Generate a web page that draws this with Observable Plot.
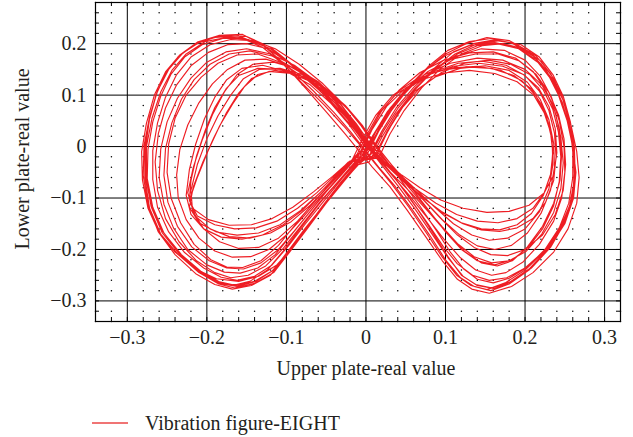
<!DOCTYPE html>
<html>
<head>
<meta charset="utf-8">
<script src="https://cdn.jsdelivr.net/npm/d3@7"></script>
<script src="https://cdn.jsdelivr.net/npm/@observablehq/plot@0.6"></script>
<style>
  html, body { margin: 0; padding: 0; background: #fff; }
  #wrap { position: relative; width: 633px; height: 437px; font-family: "Liberation Serif", "DejaVu Serif", serif; color: #231f20; }
  #legend { position: absolute; left: 92px; top: 411px; height: 24px; display: flex; align-items: center; }
  #legend .sw { width: 36px; height: 2px; background: #f07474; }
  #legend span { margin-left: 17px; font-size: 20px; line-height: 24px; }
</style>
</head>
<body>
<div id="wrap"><div id="chart"></div>
<div id="legend"><div class="sw"></div><span id="legtext"></span></div>
</div>
<script>
// Axis tick values and texts
const xTicks = [-0.3, -0.2, -0.1, 0, 0.1, 0.2, 0.3];
const yTicks = [-0.3, -0.2, -0.1, 0, 0.1, 0.2];
const seriesName = "Vibration figure-EIGHT";
const xLabel = "Upper plate-real value";
const yLabel = "Lower plate-real value";

// Trajectory, loop by loop: [upper plate, lower plate]
const loopA = [[0.0,-0.02],[0.016,0.03],[0.034,0.075],[0.055,0.117],[0.078,0.155],[0.103,0.187],[0.13,0.204],[0.157,0.21],[0.185,0.2],[0.211,0.175],[0.229,0.14],[0.242,0.1],[0.253,0.05],[0.26,0.0],[0.264,-0.05],[0.261,-0.1],[0.25,-0.15],[0.229,-0.2],[0.205,-0.24],[0.18,-0.267],[0.157,-0.28],[0.136,-0.272],[0.119,-0.255],[0.1,-0.22],[0.08,-0.172],[0.058,-0.122],[0.036,-0.076],[0.016,-0.04],
  [-0.002,-0.005],[-0.02,0.03],[-0.04,0.066],[-0.066,0.108],[-0.098,0.155],[-0.128,0.195],[-0.16,0.215],[-0.19,0.212],[-0.215,0.199],[-0.236,0.175],[-0.251,0.144],[-0.264,0.1],[-0.273,0.05],[-0.278,0.0],[-0.278,-0.06],[-0.272,-0.12],[-0.258,-0.17],[-0.236,-0.21],[-0.21,-0.245],[-0.185,-0.267],[-0.165,-0.275],[-0.14,-0.266],[-0.116,-0.245],[-0.096,-0.205],[-0.073,-0.158],[-0.05,-0.11],[-0.028,-0.068],[-0.01,-0.035]];
const loopB = [[0.01,-0.02],[0.026,0.028],[0.044,0.074],[0.064,0.116],[0.087,0.154],[0.11,0.184],[0.135,0.2],[0.16,0.207],[0.188,0.2],[0.214,0.176],[0.232,0.142],[0.246,0.1],[0.255,0.05],[0.261,0.0],[0.263,-0.055],[0.259,-0.105],[0.247,-0.155],[0.228,-0.2],[0.205,-0.238],[0.181,-0.263],[0.159,-0.275],[0.138,-0.268],[0.12,-0.25],[0.104,-0.216],[0.085,-0.17],[0.064,-0.12],[0.043,-0.075],[0.024,-0.037],
  [0.006,-0.002],[-0.012,0.034],[-0.034,0.072],[-0.062,0.114],[-0.092,0.157],[-0.12,0.19],[-0.148,0.208],[-0.176,0.212],[-0.202,0.204],[-0.226,0.18],[-0.244,0.148],[-0.258,0.106],[-0.269,0.055],[-0.276,0.0],[-0.276,-0.058],[-0.269,-0.115],[-0.255,-0.166],[-0.234,-0.208],[-0.21,-0.242],[-0.188,-0.262],[-0.168,-0.27],[-0.146,-0.262],[-0.124,-0.24],[-0.104,-0.203],[-0.082,-0.158],[-0.058,-0.11],[-0.034,-0.066],[-0.012,-0.03]];
const loopC = [[-0.008,-0.025],[0.008,0.02],[0.026,0.064],[0.047,0.106],[0.072,0.146],[0.1,0.177],[0.13,0.196],[0.162,0.202],[0.19,0.193],[0.215,0.168],[0.234,0.132],[0.248,0.09],[0.258,0.04],[0.265,-0.01],[0.268,-0.06],[0.265,-0.11],[0.254,-0.16],[0.236,-0.205],[0.21,-0.245],[0.183,-0.272],[0.155,-0.285],[0.133,-0.277],[0.115,-0.258],[0.096,-0.222],[0.075,-0.175],[0.052,-0.124],[0.03,-0.078],[0.008,-0.04],
  [-0.01,-0.006],[-0.027,0.026],[-0.048,0.064],[-0.074,0.11],[-0.1,0.155],[-0.126,0.194],[-0.155,0.218],[-0.185,0.216],[-0.212,0.203],[-0.234,0.178],[-0.252,0.145],[-0.266,0.1],[-0.276,0.045],[-0.282,-0.01],[-0.281,-0.065],[-0.274,-0.12],[-0.26,-0.168],[-0.24,-0.205],[-0.214,-0.238],[-0.188,-0.257],[-0.16,-0.262],[-0.135,-0.252],[-0.112,-0.23],[-0.092,-0.195],[-0.07,-0.15],[-0.047,-0.104],[-0.026,-0.062],[-0.01,-0.03]];
const loopD = [[0.004,-0.018],[0.02,0.03],[0.038,0.075],[0.06,0.115],[0.085,0.15],[0.114,0.176],[0.145,0.19],[0.174,0.187],[0.2,0.168],[0.219,0.137],[0.233,0.097],[0.243,0.05],[0.249,0.0],[0.25,-0.05],[0.246,-0.1],[0.236,-0.145],[0.218,-0.19],[0.197,-0.225],[0.176,-0.245],[0.158,-0.25],[0.138,-0.24],[0.118,-0.215],[0.098,-0.18],[0.077,-0.138],[0.055,-0.096],[0.034,-0.058],[0.016,-0.025],
  [-0.003,0.012],[-0.02,0.05],[-0.042,0.09],[-0.068,0.128],[-0.096,0.163],[-0.124,0.19],[-0.15,0.2],[-0.174,0.198],[-0.198,0.183],[-0.22,0.157],[-0.238,0.12],[-0.252,0.075],[-0.261,0.025],[-0.265,-0.03],[-0.262,-0.085],[-0.252,-0.14],[-0.235,-0.185],[-0.213,-0.222],[-0.19,-0.245],[-0.17,-0.255],[-0.148,-0.25],[-0.126,-0.232],[-0.104,-0.198],[-0.082,-0.155],[-0.058,-0.108],[-0.034,-0.066],[-0.014,-0.03]];
const loopE = [[-0.004,-0.022],[0.01,0.024],[0.027,0.068],[0.048,0.108],[0.074,0.14],[0.106,0.162],[0.14,0.172],[0.172,0.168],[0.2,0.15],[0.221,0.12],[0.235,0.082],[0.243,0.036],[0.246,-0.015],[0.244,-0.065],[0.236,-0.11],[0.222,-0.155],[0.203,-0.195],[0.184,-0.222],[0.165,-0.232],[0.145,-0.226],[0.125,-0.205],[0.104,-0.172],[0.082,-0.133],[0.058,-0.092],[0.034,-0.055],[0.012,-0.02],
  [-0.006,0.015],[-0.024,0.055],[-0.048,0.095],[-0.076,0.132],[-0.106,0.163],[-0.136,0.18],[-0.162,0.178],[-0.186,0.162],[-0.207,0.135],[-0.226,0.1],[-0.24,0.055],[-0.248,0.005],[-0.25,-0.05],[-0.245,-0.1],[-0.233,-0.148],[-0.216,-0.19],[-0.195,-0.22],[-0.175,-0.234],[-0.155,-0.235],[-0.132,-0.222],[-0.11,-0.192],[-0.088,-0.15],[-0.064,-0.105],[-0.04,-0.065],[-0.02,-0.03]];
const loopF = [[0.012,-0.02],[0.026,0.025],[0.042,0.07],[0.062,0.108],[0.088,0.136],[0.118,0.152],[0.15,0.157],[0.18,0.148],[0.203,0.125],[0.219,0.092],[0.23,0.052],[0.236,0.006],[0.237,-0.04],[0.232,-0.085],[0.22,-0.13],[0.203,-0.168],[0.183,-0.192],[0.162,-0.2],[0.14,-0.193],[0.118,-0.172],[0.096,-0.142],[0.074,-0.106],[0.052,-0.07],[0.032,-0.035],
  [0.014,0.0],[-0.004,0.04],[-0.026,0.08],[-0.052,0.115],[-0.08,0.14],[-0.108,0.152],[-0.134,0.15],[-0.154,0.132],[-0.17,0.1],[-0.186,0.06],[-0.2,0.015],[-0.212,-0.035],[-0.22,-0.085],[-0.218,-0.125],[-0.204,-0.16],[-0.184,-0.185],[-0.16,-0.198],[-0.135,-0.196],[-0.11,-0.178],[-0.086,-0.145],[-0.064,-0.106],[-0.042,-0.066],[-0.02,-0.03]];
const loopG = [[-0.014,-0.024],[0.0,0.02],[0.016,0.064],[0.038,0.102],[0.066,0.128],[0.098,0.143],[0.13,0.148],[0.162,0.142],[0.19,0.126],[0.211,0.1],[0.224,0.066],[0.232,0.028],[0.235,-0.012],[0.232,-0.055],[0.223,-0.095],[0.208,-0.13],[0.19,-0.152],[0.168,-0.162],[0.145,-0.16],[0.12,-0.148],[0.095,-0.126],[0.07,-0.098],[0.046,-0.066],[0.024,-0.034],
  [0.004,0.002],[-0.012,0.042],[-0.032,0.082],[-0.058,0.118],[-0.086,0.14],[-0.114,0.148],[-0.136,0.14],[-0.153,0.116],[-0.168,0.082],[-0.184,0.04],[-0.199,-0.01],[-0.212,-0.06],[-0.222,-0.105],[-0.212,-0.135],[-0.19,-0.152],[-0.165,-0.16],[-0.138,-0.158],[-0.112,-0.145],[-0.086,-0.12],[-0.062,-0.09],[-0.04,-0.058],[-0.022,-0.03]];
const loopH = [[-0.002,-0.02],[0.012,0.028],[0.03,0.074],[0.052,0.112],[0.08,0.14],[0.11,0.156],[0.142,0.162],[0.172,0.156],[0.198,0.14],[0.217,0.114],[0.23,0.078],[0.238,0.035],[0.24,-0.012],[0.236,-0.055],[0.224,-0.09],[0.205,-0.114],[0.18,-0.126],[0.152,-0.128],[0.122,-0.12],[0.094,-0.104],[0.068,-0.08],[0.044,-0.054],[0.022,-0.028],
  [0.002,0.005],[-0.014,0.045],[-0.034,0.088],[-0.06,0.126],[-0.088,0.152],[-0.116,0.164],[-0.142,0.16],[-0.162,0.14],[-0.178,0.106],[-0.193,0.062],[-0.206,0.012],[-0.217,-0.04],[-0.224,-0.09],[-0.218,-0.12],[-0.198,-0.142],[-0.172,-0.153],[-0.144,-0.152],[-0.118,-0.14],[-0.092,-0.118],[-0.066,-0.088],[-0.042,-0.058],[-0.02,-0.028]];
const loopI = [[0.004,-0.03],[0.02,0.018],[0.038,0.064],[0.06,0.108],[0.085,0.148],[0.112,0.18],[0.14,0.2],[0.168,0.206],[0.195,0.198],[0.218,0.174],[0.235,0.14],[0.248,0.098],[0.257,0.048],[0.262,-0.002],[0.263,-0.055],[0.258,-0.108],[0.245,-0.158],[0.225,-0.203],[0.2,-0.24],[0.175,-0.265],[0.152,-0.278],[0.132,-0.27],[0.114,-0.25],[0.096,-0.215],[0.076,-0.168],[0.054,-0.118],[0.032,-0.072],[0.012,-0.034],
  [-0.008,0.004],[-0.028,0.04],[-0.052,0.08],[-0.078,0.12],[-0.104,0.16],[-0.13,0.193],[-0.158,0.212],[-0.186,0.214],[-0.212,0.202],[-0.233,0.178],[-0.25,0.146],[-0.263,0.104],[-0.272,0.054],[-0.277,0.0],[-0.277,-0.058],[-0.27,-0.117],[-0.256,-0.168],[-0.234,-0.21],[-0.208,-0.245],[-0.184,-0.266],[-0.162,-0.272],[-0.138,-0.262],[-0.116,-0.24],[-0.098,-0.203],[-0.076,-0.158],[-0.052,-0.112],[-0.03,-0.07],[-0.01,-0.036]];
const loopJ = [[0.006,-0.016],[0.022,0.03],[0.04,0.074],[0.062,0.114],[0.088,0.15],[0.115,0.18],[0.14,0.196],[0.165,0.2],[0.192,0.19],[0.216,0.164],[0.234,0.128],[0.247,0.085],[0.256,0.035],[0.261,-0.015],[0.262,-0.065],[0.256,-0.115],[0.243,-0.162],[0.224,-0.203],[0.2,-0.236],[0.177,-0.255],[0.155,-0.26],[0.134,-0.25],[0.115,-0.228],[0.097,-0.194],[0.078,-0.15],[0.057,-0.104],[0.037,-0.062],[0.018,-0.026],
  [0.0,0.012],[-0.018,0.052],[-0.04,0.092],[-0.066,0.124],[-0.094,0.142],[-0.122,0.146],[-0.144,0.132],[-0.16,0.104],[-0.176,0.064],[-0.191,0.018],[-0.205,-0.03],[-0.217,-0.078],[-0.222,-0.118],[-0.21,-0.148],[-0.188,-0.166],[-0.162,-0.172],[-0.135,-0.168],[-0.108,-0.152],[-0.082,-0.124],[-0.058,-0.09],[-0.036,-0.056],[-0.016,-0.024]];
const loopK = [[-0.006,-0.012],[0.008,0.034],[0.026,0.078],[0.05,0.114],[0.078,0.14],[0.108,0.153],[0.14,0.156],[0.17,0.148],[0.196,0.128],[0.214,0.098],[0.227,0.058],[0.234,0.012],[0.235,-0.035],[0.23,-0.082],[0.218,-0.127],[0.2,-0.16],[0.178,-0.178],[0.155,-0.182],[0.133,-0.172],[0.11,-0.15],[0.088,-0.12],[0.066,-0.088],[0.044,-0.056],[0.022,-0.024],
  [0.002,0.01],[-0.016,0.046],[-0.04,0.086],[-0.068,0.126],[-0.098,0.164],[-0.128,0.195],[-0.154,0.21],[-0.18,0.21],[-0.206,0.198],[-0.228,0.174],[-0.245,0.141],[-0.258,0.098],[-0.268,0.048],[-0.274,-0.005],[-0.275,-0.062],[-0.268,-0.118],[-0.254,-0.168],[-0.232,-0.21],[-0.207,-0.243],[-0.184,-0.263],[-0.163,-0.27],[-0.14,-0.262],[-0.118,-0.242],[-0.098,-0.205],[-0.076,-0.16],[-0.053,-0.114],[-0.031,-0.072],[-0.012,-0.036]];
const loopL = [[-0.004,-0.018],[0.012,0.028],[0.03,0.072],[0.052,0.112],[0.078,0.146],[0.108,0.17],[0.138,0.18],[0.166,0.18],[0.192,0.167],[0.214,0.14],[0.23,0.105],[0.242,0.062],[0.249,0.015],[0.251,-0.035],[0.248,-0.085],[0.238,-0.132],[0.222,-0.172],[0.2,-0.2],[0.178,-0.212],[0.157,-0.21],[0.136,-0.196],[0.115,-0.172],[0.093,-0.138],[0.07,-0.1],[0.048,-0.064],[0.026,-0.03],
  [0.006,0.004],[-0.012,0.044],[-0.034,0.086],[-0.06,0.124],[-0.09,0.158],[-0.12,0.18],[-0.15,0.19],[-0.176,0.184],[-0.2,0.164],[-0.22,0.133],[-0.237,0.094],[-0.25,0.048],[-0.258,-0.005],[-0.26,-0.06],[-0.254,-0.112],[-0.242,-0.158],[-0.224,-0.2],[-0.2,-0.23],[-0.178,-0.244],[-0.158,-0.246],[-0.136,-0.236],[-0.114,-0.21],[-0.094,-0.172],[-0.072,-0.13],[-0.05,-0.088],[-0.028,-0.05],[-0.01,-0.018]];
const loopM = [[-0.006,-0.03],[0.01,0.016],[0.028,0.062],[0.05,0.106],[0.075,0.148],[0.1,0.18],[0.126,0.2],[0.152,0.212],[0.18,0.206],[0.206,0.184],[0.226,0.15],[0.241,0.108],[0.252,0.058],[0.259,0.006],[0.262,-0.046],[0.26,-0.098],[0.25,-0.148],[0.232,-0.196],[0.208,-0.236],[0.184,-0.262],[0.162,-0.276],[0.14,-0.27],[0.122,-0.252],[0.104,-0.218],[0.084,-0.172],[0.062,-0.122],[0.04,-0.076],[0.02,-0.036],
  [0.002,0.0],[-0.016,0.036],[-0.036,0.072],[-0.06,0.112],[-0.09,0.156],[-0.12,0.193],[-0.15,0.214],[-0.18,0.216],[-0.207,0.205],[-0.23,0.182],[-0.248,0.15],[-0.262,0.108],[-0.272,0.058],[-0.279,0.002],[-0.28,-0.056],[-0.274,-0.114],[-0.261,-0.166],[-0.24,-0.21],[-0.214,-0.247],[-0.19,-0.268],[-0.168,-0.277],[-0.144,-0.27],[-0.12,-0.25],[-0.1,-0.212],[-0.078,-0.165],[-0.055,-0.116],[-0.032,-0.07],[-0.012,-0.034]];
const loopN = [[0.014,-0.014],[0.028,0.032],[0.046,0.076],[0.068,0.114],[0.095,0.144],[0.124,0.162],[0.154,0.168],[0.182,0.16],[0.206,0.14],[0.223,0.11],[0.235,0.072],[0.242,0.028],[0.245,-0.02],[0.243,-0.068],[0.236,-0.115],[0.222,-0.16],[0.204,-0.196],[0.184,-0.22],[0.162,-0.23],[0.14,-0.222],[0.12,-0.2],[0.1,-0.166],[0.08,-0.126],[0.06,-0.086],[0.04,-0.05],[0.022,-0.016],
  [0.004,0.02],[-0.014,0.058],[-0.038,0.096],[-0.066,0.13],[-0.096,0.156],[-0.126,0.17],[-0.152,0.168],[-0.174,0.15],[-0.193,0.122],[-0.21,0.085],[-0.224,0.042],[-0.234,-0.006],[-0.238,-0.055],[-0.236,-0.1],[-0.226,-0.142],[-0.21,-0.178],[-0.19,-0.203],[-0.168,-0.215],[-0.145,-0.214],[-0.122,-0.2],[-0.1,-0.172],[-0.078,-0.135],[-0.056,-0.096],[-0.034,-0.06],[-0.014,-0.026]];
const loopO = [[-0.018,-0.028],[-0.004,0.016],[0.012,0.06],[0.034,0.1],[0.062,0.13],[0.094,0.148],[0.126,0.155],[0.158,0.152],[0.186,0.138],[0.208,0.112],[0.222,0.078],[0.231,0.038],[0.235,-0.005],[0.233,-0.05],[0.224,-0.09],[0.21,-0.12],[0.19,-0.14],[0.166,-0.148],[0.14,-0.145],[0.114,-0.132],[0.088,-0.11],[0.062,-0.082],[0.038,-0.052],[0.016,-0.024],
  [-0.004,0.006],[-0.022,0.044],[-0.044,0.084],[-0.07,0.12],[-0.1,0.146],[-0.13,0.158],[-0.156,0.152],[-0.175,0.13],[-0.19,0.096],[-0.203,0.054],[-0.214,0.005],[-0.222,-0.045],[-0.226,-0.095],[-0.22,-0.132],[-0.204,-0.16],[-0.182,-0.176],[-0.156,-0.18],[-0.13,-0.172],[-0.104,-0.152],[-0.08,-0.124],[-0.058,-0.09],[-0.038,-0.058],[-0.02,-0.03]];
const loopP = [[0.016,-0.022],[0.03,0.024],[0.048,0.07],[0.07,0.114],[0.094,0.152],[0.12,0.18],[0.146,0.196],[0.172,0.2],[0.198,0.19],[0.22,0.166],[0.236,0.132],[0.248,0.09],[0.256,0.042],[0.26,-0.008],[0.26,-0.06],[0.255,-0.11],[0.243,-0.158],[0.225,-0.2],[0.203,-0.234],[0.18,-0.256],[0.16,-0.265],[0.14,-0.258],[0.123,-0.238],[0.106,-0.205],[0.088,-0.162],[0.068,-0.116],[0.048,-0.074],[0.03,-0.036],
  [0.012,0.0],[-0.006,0.04],[-0.028,0.082],[-0.054,0.122],[-0.084,0.16],[-0.114,0.19],[-0.142,0.206],[-0.17,0.208],[-0.196,0.198],[-0.22,0.174],[-0.238,0.14],[-0.252,0.096],[-0.262,0.046],[-0.268,-0.008],[-0.268,-0.064],[-0.262,-0.118],[-0.248,-0.166],[-0.228,-0.206],[-0.204,-0.236],[-0.182,-0.254],[-0.162,-0.26],[-0.14,-0.252],[-0.118,-0.23],[-0.098,-0.194],[-0.076,-0.15],[-0.052,-0.104],[-0.03,-0.062],[-0.01,-0.028]];
const loopQ = [[-0.01,-0.02],[0.004,0.026],[0.02,0.07],[0.042,0.11],[0.068,0.144],[0.098,0.168],[0.13,0.182],[0.16,0.184],[0.188,0.172],[0.21,0.146],[0.226,0.11],[0.238,0.066],[0.245,0.018],[0.248,-0.032],[0.245,-0.082],[0.236,-0.128],[0.221,-0.17],[0.201,-0.204],[0.18,-0.222],[0.158,-0.226],[0.136,-0.214],[0.116,-0.19],[0.096,-0.156],[0.074,-0.116],[0.052,-0.076],[0.03,-0.04],[0.01,-0.008],
  [-0.008,0.026],[-0.026,0.066],[-0.048,0.104],[-0.076,0.134],[-0.106,0.15],[-0.136,0.152],[-0.16,0.138],[-0.176,0.112],[-0.19,0.076],[-0.202,0.032],[-0.213,-0.018],[-0.22,-0.066],[-0.222,-0.104],[-0.214,-0.136],[-0.196,-0.16],[-0.172,-0.175],[-0.146,-0.178],[-0.12,-0.168],[-0.094,-0.146],[-0.07,-0.114],[-0.048,-0.078],[-0.028,-0.044],[-0.012,-0.016]];
const loopR = [[0.004,-0.004],[0.018,0.04],[0.036,0.082],[0.058,0.118],[0.086,0.146],[0.116,0.162],[0.146,0.166],[0.176,0.158],[0.2,0.138],[0.218,0.108],[0.23,0.07],[0.237,0.026],[0.239,-0.02],[0.236,-0.066],[0.226,-0.108],[0.21,-0.14],[0.19,-0.158],[0.168,-0.165],[0.145,-0.162],[0.122,-0.15],[0.098,-0.13],[0.074,-0.102],[0.05,-0.07],[0.028,-0.038],
  [0.008,-0.004],[-0.01,0.034],[-0.032,0.074],[-0.058,0.114],[-0.088,0.15],[-0.118,0.176],[-0.146,0.186],[-0.172,0.18],[-0.196,0.16],[-0.216,0.13],[-0.232,0.092],[-0.244,0.046],[-0.252,-0.004],[-0.254,-0.056],[-0.249,-0.108],[-0.237,-0.155],[-0.219,-0.195],[-0.197,-0.222],[-0.175,-0.236],[-0.154,-0.238],[-0.132,-0.226],[-0.11,-0.2],[-0.09,-0.164],[-0.068,-0.122],[-0.046,-0.08],[-0.026,-0.044],[-0.008,-0.012]];

const loops = [loopA, loopI, loopD, loopF, loopB, loopJ, loopL, loopG, loopC, loopK, loopE, loopH, loopM, loopN, loopO, loopP, loopQ, loopR];
const trajectory = loops.flat().map(([u, l]) => ({u, l}));

// minor grid every 0.02 (styling grid derived from the axis step)
const minorX = d3.range(-17, 17).map(i => i / 50);
const minorY = d3.range(-17, 15).map(i => i / 50);
const dotGrid = [];
for (const x of minorX) for (const y of minorY) {
  if (Math.round(x * 50) % 5 !== 0 && Math.round(y * 50) % 5 !== 0) dotGrid.push({x, y});
}

const fmt = d => d === 0 ? "0" : d3.format(".1f")(d).replace("-", "\u2212");

const W = 633, H = 390, mL = 95, mR = 13, mT = 2, mB = 69;
const fw = W - mL - mR, fh = H - mT - mB;
const ink = "#231f20";

const chart = Plot.plot({
  width: W, height: H,
  marginLeft: mL, marginRight: mR, marginTop: mT, marginBottom: mB,
  style: {fontFamily: '"Liberation Serif", "DejaVu Serif", serif', fontSize: "20px", color: ink, background: "#fff"},
  x: {domain: [-0.34, 0.32], ticks: xTicks, tickFormat: fmt, label: null},
  y: {domain: [-0.34, 0.28], ticks: yTicks, tickFormat: fmt, label: null},
  marks: [
    Plot.dot(dotGrid, {x: "x", y: "y", r: 0.75, fill: "#000", stroke: null}),
    Plot.ruleX(xTicks, {stroke: "#000", strokeWidth: 1}),
    Plot.ruleY(yTicks, {stroke: "#000", strokeWidth: 1}),
    Plot.tickX(minorX, {x: d => d, stroke: "#000", insetTop: fh - 4}),
    Plot.tickX(minorX, {x: d => d, stroke: "#000", insetBottom: fh - 4}),
    Plot.tickY(minorY, {y: d => d, stroke: "#000", insetRight: fw - 4}),
    Plot.tickY(minorY, {y: d => d, stroke: "#000", insetLeft: fw - 4}),
    Plot.line(trajectory, {x: "u", y: "l", stroke: "#ee1d23", strokeWidth: 1.15, strokeLinejoin: "round"}),
    Plot.frame({stroke: "#000", strokeWidth: 1.2}),
    Plot.axisX({ticks: xTicks, tickFormat: fmt, tickSize: 0, tickPadding: 8, label: null, fontSize: 20}),
    Plot.axisY({ticks: yTicks, tickFormat: fmt, tickSize: 0, tickPadding: 9, label: null, fontSize: 20}),
    Plot.text([xLabel], {frameAnchor: "bottom", dy: 53, dx: 8, fontSize: 20, fill: ink}),
    Plot.text([yLabel], {frameAnchor: "left", textAnchor: "middle", dx: -73, dy: -3, rotate: -90, fontSize: 20, fill: ink})
  ]
});
document.getElementById("chart").appendChild(chart);
document.getElementById("legtext").textContent = seriesName;
</script>
</body>
</html>
